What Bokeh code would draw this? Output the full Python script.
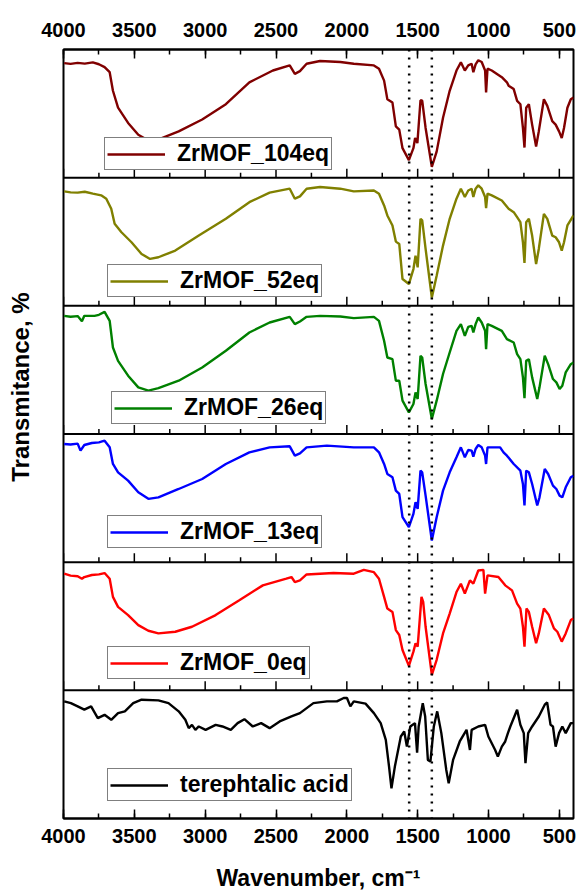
import math
from bokeh.plotting import figure
from bokeh.layouts import row
from bokeh.models import (Range1d, LinearAxis, SingleIntervalTicker, Span, Legend,
                          LegendItem, ColumnDataSource)
from bokeh.core.properties import value
from bokeh.embed import file_html
from bokeh.resources import INLINE

# ---------------- data (wavenumber, cm-1 ; relative transmittance within each panel) ----------
wn_104 = [3995, 3950, 3900, 3850, 3793, 3750, 3710, 3674, 3651, 3615, 3544, 3472, 3401, 3306, 3187,
          3021, 2854, 2688, 2522, 2403, 2367, 2331, 2284, 2189, 2046, 1951, 1809, 1773, 1737, 1714,
          1678, 1654, 1630, 1607, 1562, 1530, 1518, 1502, 1480, 1468, 1444, 1400, 1366, 1321, 1274,
          1226, 1195, 1167, 1143, 1119, 1107, 1091, 1072, 1048, 1024, 1017, 1007, 977, 906, 870,
          858, 822, 798, 775, 757, 746, 734, 715, 692, 664, 645, 609, 585, 550, 526, 502, 483, 467,
          443, 419, 400]
t_104 = [0.894, 0.888, 0.896, 0.890, 0.900, 0.885, 0.863, 0.823, 0.678, 0.546, 0.427, 0.335, 0.290,
         0.309, 0.361, 0.454, 0.573, 0.744, 0.836, 0.876, 0.810, 0.831, 0.889, 0.910, 0.902, 0.889,
         0.876, 0.850, 0.757, 0.612, 0.586, 0.400, 0.375, 0.230, 0.137, 0.230, 0.309, 0.270, 0.604,
         0.600, 0.388, 0.084, 0.203, 0.467, 0.678, 0.836, 0.900, 0.836, 0.876, 0.889, 0.823, 0.884,
         0.916, 0.902, 0.836, 0.665, 0.850, 0.836, 0.784, 0.744, 0.718, 0.691, 0.599, 0.573, 0.388,
         0.235, 0.546, 0.573, 0.414, 0.243, 0.361, 0.612, 0.560, 0.441, 0.414, 0.361, 0.309, 0.388,
         0.546, 0.612, 0.625]

wn_52 = [3995, 3950, 3900, 3850, 3793, 3734, 3698, 3663, 3639, 3591, 3520, 3449, 3389, 3330, 3211,
         3045, 2854, 2688, 2545, 2403, 2367, 2331, 2284, 2189, 2046, 1951, 1809, 1773, 1737, 1714,
         1678, 1654, 1630, 1607, 1562, 1530, 1515, 1500, 1480, 1468, 1444, 1400, 1366, 1321, 1274,
         1226, 1195, 1167, 1143, 1119, 1107, 1091, 1072, 1048, 1024, 1017, 1007, 977, 906, 858, 822,
         798, 775, 757, 746, 734, 715, 692, 664, 645, 609, 585, 550, 526, 502, 483, 467, 443, 400]
t_52 = [0.893, 0.885, 0.883, 0.890, 0.875, 0.862, 0.836, 0.757, 0.640, 0.574, 0.496, 0.405, 0.366,
        0.379, 0.431, 0.548, 0.679, 0.809, 0.883, 0.914, 0.836, 0.854, 0.914, 0.927, 0.914, 0.893,
        0.900, 0.875, 0.783, 0.705, 0.627, 0.501, 0.483, 0.209, 0.170, 0.287, 0.392, 0.300, 0.679,
        0.666, 0.444, 0.065, 0.235, 0.470, 0.679, 0.836, 0.914, 0.849, 0.900, 0.914, 0.849, 0.914,
        0.940, 0.914, 0.849, 0.762, 0.875, 0.862, 0.822, 0.757, 0.731, 0.692, 0.653, 0.496, 0.334,
        0.653, 0.679, 0.548, 0.326, 0.444, 0.718, 0.679, 0.548, 0.535, 0.496, 0.431, 0.496, 0.627,
        0.705]

wn_26 = [3995, 3950, 3900, 3870, 3853, 3781, 3750, 3710, 3674, 3651, 3615, 3544, 3472, 3401, 3330,
         3187, 3021, 2854, 2688, 2545, 2403, 2367, 2331, 2284, 2189, 2046, 1951, 1809, 1773, 1737,
         1714, 1678, 1654, 1630, 1607, 1562, 1530, 1515, 1500, 1480, 1468, 1444, 1400, 1366, 1321,
         1274, 1226, 1195, 1167, 1143, 1119, 1107, 1091, 1072, 1048, 1024, 1017, 1007, 977, 906, 870,
         822, 798, 775, 757, 746, 734, 715, 692, 656, 640, 603, 579, 545, 521, 498, 479, 455, 419,
         400]
t_26 = [0.922, 0.915, 0.920, 0.880, 0.922, 0.922, 0.930, 0.953, 0.883, 0.675, 0.571, 0.455, 0.364,
        0.338, 0.358, 0.416, 0.519, 0.649, 0.792, 0.870, 0.914, 0.857, 0.878, 0.914, 0.922, 0.917,
        0.904, 0.914, 0.883, 0.727, 0.597, 0.584, 0.416, 0.416, 0.260, 0.169, 0.234, 0.325, 0.273,
        0.610, 0.597, 0.390, 0.117, 0.260, 0.468, 0.636, 0.805, 0.857, 0.766, 0.836, 0.844, 0.792,
        0.857, 0.909, 0.870, 0.805, 0.662, 0.857, 0.844, 0.805, 0.740, 0.714, 0.623, 0.584, 0.442,
        0.280, 0.571, 0.584, 0.442, 0.273, 0.364, 0.610, 0.545, 0.429, 0.403, 0.351, 0.377, 0.481,
        0.545, 0.558]

wn_13 = [3995, 3950, 3900, 3880, 3853, 3800, 3750, 3710, 3674, 3651, 3615, 3544, 3472, 3401, 3330,
         3187, 3021, 2854, 2688, 2545, 2403, 2367, 2331, 2284, 2141, 1951, 1809, 1773, 1737, 1714,
         1678, 1654, 1630, 1607, 1562, 1530, 1515, 1500, 1480, 1468, 1444, 1400, 1366, 1321, 1274,
         1226, 1195, 1167, 1143, 1119, 1107, 1091, 1072, 1048, 1024, 1017, 1007, 918, 894, 870, 822,
         775, 757, 746, 734, 715, 692, 656, 640, 603, 579, 545, 521, 498, 479, 455, 419, 400]
t_13 = [0.922, 0.918, 0.925, 0.870, 0.914, 0.930, 0.935, 0.948, 0.896, 0.766, 0.701, 0.636, 0.545,
        0.494, 0.506, 0.571, 0.649, 0.766, 0.857, 0.896, 0.904, 0.831, 0.849, 0.896, 0.909, 0.896,
        0.896, 0.857, 0.766, 0.688, 0.662, 0.558, 0.532, 0.351, 0.273, 0.377, 0.468, 0.416, 0.714,
        0.701, 0.519, 0.169, 0.351, 0.558, 0.701, 0.818, 0.896, 0.818, 0.875, 0.870, 0.823, 0.883,
        0.914, 0.896, 0.831, 0.766, 0.896, 0.896, 0.857, 0.831, 0.766, 0.714, 0.610, 0.442, 0.714,
        0.701, 0.610, 0.442, 0.506, 0.727, 0.688, 0.597, 0.571, 0.519, 0.506, 0.584, 0.662, 0.675]

wn_0 = [3995, 3950, 3900, 3870, 3853, 3800, 3750, 3710, 3674, 3651, 3615, 3544, 3472, 3401, 3330,
        3211, 3093, 2926, 2759, 2593, 2427, 2391, 2367, 2331, 2284, 2094, 1951, 1880, 1809, 1773,
        1737, 1714, 1678, 1654, 1630, 1607, 1562, 1530, 1515, 1500, 1473, 1461, 1444, 1400, 1366,
        1321, 1274, 1226, 1195, 1167, 1131, 1107, 1072, 1036, 1024, 1007, 930, 882, 834, 798, 775,
        757, 746, 732, 715, 692, 664, 645, 609, 574, 538, 514, 483, 455, 419, 400]
t_0 = [0.910, 0.895, 0.890, 0.870, 0.884, 0.900, 0.905, 0.915, 0.871, 0.729, 0.651, 0.587, 0.509,
       0.465, 0.444, 0.457, 0.496, 0.587, 0.703, 0.819, 0.871, 0.884, 0.845, 0.858, 0.904, 0.915,
       0.910, 0.940, 0.922, 0.871, 0.729, 0.638, 0.612, 0.470, 0.432, 0.315, 0.191, 0.302, 0.367,
       0.341, 0.729, 0.690, 0.496, 0.121, 0.238, 0.444, 0.599, 0.767, 0.832, 0.755, 0.858, 0.832,
       0.935, 0.940, 0.755, 0.897, 0.884, 0.819, 0.780, 0.677, 0.638, 0.496, 0.341, 0.638, 0.612,
       0.496, 0.367, 0.444, 0.638, 0.587, 0.483, 0.457, 0.380, 0.444, 0.548, 0.561]

wn_ta = [3995, 3948, 3900, 3853, 3805, 3758, 3710, 3663, 3615, 3567, 3508, 3449, 3330, 3259, 3187,
         3140, 3116, 3093, 3069, 3045, 2997, 2926, 2878, 2819, 2771, 2723, 2664, 2605, 2545, 2474,
         2391, 2331, 2236, 2141, 2070, 2022, 1999, 1975, 1951, 1868, 1809, 1761, 1725, 1702, 1685,
         1661, 1619, 1595, 1576, 1552, 1535, 1519, 1504, 1493, 1464, 1447, 1428, 1410, 1386, 1362,
         1333, 1298, 1281, 1250, 1203, 1155, 1131, 1119, 1072, 1024, 1001, 953, 934, 906, 882, 863,
         846, 798, 775, 751, 739, 720, 692, 645, 603, 586, 562, 545, 526, 502, 479, 455, 419, 400]
t_ta = [0.914, 0.900, 0.875, 0.849, 0.875, 0.783, 0.809, 0.770, 0.822, 0.836, 0.900, 0.927, 0.922,
        0.900, 0.836, 0.770, 0.705, 0.731, 0.692, 0.718, 0.692, 0.731, 0.718, 0.692, 0.744, 0.775,
        0.718, 0.744, 0.705, 0.757, 0.796, 0.822, 0.900, 0.914, 0.914, 0.940, 0.940, 0.875, 0.914,
        0.896, 0.822, 0.744, 0.614, 0.405, 0.235, 0.405, 0.640, 0.679, 0.561, 0.718, 0.731, 0.744,
        0.514, 0.718, 0.900, 0.796, 0.457, 0.444, 0.718, 0.836, 0.666, 0.379, 0.274, 0.457, 0.601,
        0.692, 0.535, 0.692, 0.718, 0.731, 0.640, 0.535, 0.483, 0.561, 0.601, 0.666, 0.718, 0.849,
        0.731, 0.666, 0.431, 0.666, 0.718, 0.796, 0.888, 0.906, 0.731, 0.718, 0.561, 0.666, 0.718,
        0.666, 0.744, 0.744]

# panels from bottom to top
series_names = ["terephtalic acid", "ZrMOF_0eq", "ZrMOF_13eq", "ZrMOF_26eq", "ZrMOF_52eq", "ZrMOF_104eq"]
series_wn = [wn_ta, wn_0, wn_13, wn_26, wn_52, wn_104]
series_t = [t_ta, t_0, t_13, t_26, t_52, t_104]
series_colors = ["#000000", "#FF0000", "#0000FF", "#008000", "#808000", "#800000"]
dotted_lines = [1560, 1400]
x_start, x_end = 4000, 400
major_ticks = [4000, 3500, 3000, 2500, 2000, 1500, 1000, 500]
minor_ticks = [3750, 3250, 2750, 2250, 1750, 1250, 750]
y_title = "Transmitance, %"
x_title = "Wavenumber, cm\u207b\u00b9"
# legend box anchors (px from frame left, px from frame bottom)
legend_pos = [(44, 17), (44, 139), (44, 270), (48, 394), (44, 521), (41, 648)]

FONT = "Liberation Sans"
FRAME_H = 818 - 49
LAB_W = 40

# ---- narrow figure holding the y title ----
ylab = figure(width=LAB_W, height=893, x_range=Range1d(0, LAB_W), y_range=Range1d(0, 893),
              output_backend="svg", toolbar_location=None,
              min_border_left=0, min_border_right=0, min_border_top=0, min_border_bottom=0)
ylab.axis.visible = False
ylab.grid.visible = False
ylab.outline_line_color = None
ylab.text(x=[20], y=[893 - 392], text=[y_title], angle=math.pi / 2, text_align="center",
          text_baseline="middle", text_font=value(FONT), text_font_size="24px",
          text_font_style="bold", text_color="black")

# ---- main figure ----
p = figure(width=577 - LAB_W, height=893, x_range=Range1d(x_start, x_end), y_range=Range1d(0, 6),
           output_backend="svg", toolbar_location=None,
           min_border_left=63 - LAB_W, min_border_right=4, min_border_top=49, min_border_bottom=75)
p.grid.visible = False
p.yaxis.visible = False
p.outline_line_color = "black"
p.outline_line_width = 2
p.background_fill_color = "white"
p.border_fill_color = "white"

ticker = SingleIntervalTicker(interval=500, num_minor_ticks=2)

def style_axis(ax, standoff):
    ax.ticker = ticker
    ax.axis_line_color = "black"
    ax.axis_line_width = 2
    ax.major_tick_in = 9
    ax.major_tick_out = 0
    ax.minor_tick_in = 5
    ax.minor_tick_out = 0
    ax.major_tick_line_width = 1.5
    ax.minor_tick_line_width = 1.5
    ax.major_label_text_font = FONT
    ax.major_label_text_font_size = "20px"
    ax.major_label_text_font_style = "bold"
    ax.major_label_text_color = "black"
    ax.major_label_standoff = standoff

xb = p.xaxis[0]
style_axis(xb, 10)
xb.axis_label = x_title
xb.axis_label_text_font = FONT
xb.axis_label_text_font_size = "23px"
xb.axis_label_text_font_style = "bold"
xb.axis_label_text_color = "black"
xb.axis_label_standoff = 19

xt = LinearAxis()
style_axis(xt, 13)
p.add_layout(xt, "above")

# panel separators and their inward ticks
px_per_unit = FRAME_H / 6.0
for k in range(1, 6):
    p.add_layout(Span(location=k, dimension="width", line_color="black", line_width=2))
    p.segment(x0=major_ticks, x1=major_ticks, y0=[k] * len(major_ticks),
              y1=[k + 9 / px_per_unit] * len(major_ticks), line_color="black", line_width=1.5)
    p.segment(x0=minor_ticks, x1=minor_ticks, y0=[k] * len(minor_ticks),
              y1=[k + 5 / px_per_unit] * len(minor_ticks), line_color="black", line_width=1.5)

# spectra + one legend per panel
for k, (name, wn, tt, col) in enumerate(zip(series_names, series_wn, series_t, series_colors)):
    src = ColumnDataSource(dict(x=wn, y=[k + v for v in tt]))
    r = p.line("x", "y", source=src, line_color=col, line_width=2.4)
    lg = Legend(items=[LegendItem(label=name, renderers=[r])], location=legend_pos[k],
                orientation="vertical", padding=2, margin=0, spacing=0,
                glyph_width=58, glyph_height=22, label_standoff=12, label_height=22,
                label_text_font=FONT, label_text_font_size="23px", label_text_font_style="bold",
                label_text_color="black", border_line_color="black", border_line_width=1.2,
                background_fill_color="white", background_fill_alpha=1.0)
    p.add_layout(lg, "center")

# dotted reference lines
for loc in dotted_lines:
    p.add_layout(Span(location=loc, dimension="height", line_color="black", line_width=2.5,
                      line_dash="2 6"))

layout = row(ylab, p)
open("out.html", "w").write(file_html(layout, INLINE))
